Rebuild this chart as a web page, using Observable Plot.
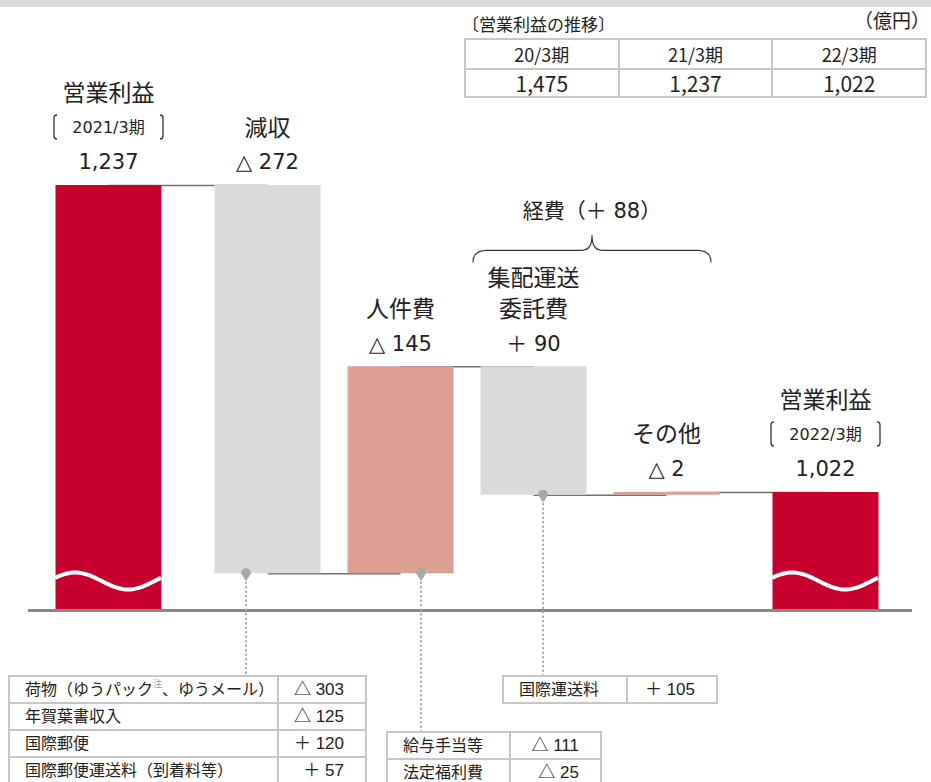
<!DOCTYPE html>
<html lang="ja">
<head>
<meta charset="utf-8">
<script src="https://cdn.jsdelivr.net/npm/d3@7"></script>
<script src="https://cdn.jsdelivr.net/npm/@observablehq/plot@0.6"></script>
<style>
  html, body { margin: 0; padding: 0; background: #fff; overflow: hidden; }
  #wrap { position: relative; width: 931px; height: 782px; overflow: hidden; color: #222;
          font-family: "Noto Sans CJK JP", sans-serif; }
  #band { position: absolute; left: 0; top: 0; width: 931px; height: 7px; background: #d9d9d9; }
  #plot { position: absolute; left: 0; top: 0; }
  .abs { position: absolute; white-space: nowrap; }
  table.grid { position: absolute; border-collapse: collapse; table-layout: fixed; }
  table.grid td { border: 2px solid #c6c6c6; padding: 0; white-space: nowrap; overflow: visible; }
  table.detail td { font-family: "Liberation Sans", "Noto Sans CJK JP", sans-serif; font-size: 16px; height: 25px; line-height: 25px; }
  table.detail td.lab { padding-left: 15px; }
  table.detail td.val { text-align: right; padding-right: 21px; font-size: 17px; }
  table.detail sup { font-size: 9px; color: #9a9a9a; vertical-align: top; line-height: 14px; }
  table.summary td { text-align: center; font-family: "Noto Sans CJK JP", sans-serif; }
</style>
</head>
<body>
<div id="wrap">
  <div id="band"></div>
  <div id="plot"></div>
</div>
<script>
// ---------------- data ----------------
const steps        = ["営業利益", "減収", "人件費", "集配運送\n委託費", "その他", "営業利益"];
const periods      = ["2021/3期", "", "", "", "", "2022/3期"];
const kinds        = ["total", "down", "up", "down", "up", "total"];
const amounts      = [1237, -272, 145, -90, 2, 1022];
const amountLabels = ["1,237", "△ 272", "△ 145", "＋ 90", "△ 2", "1,022"];
const axisFloor    = 940;   // value at the (broken) baseline

const expenseGroupLabel = "経費（＋ 88）";
const expenseGroupBars  = [3, 4];

const summaryTitle  = "〔営業利益の推移〕";
const unitLabel     = "（億円）";
const summaryYears  = ["20/3期", "21/3期", "22/3期"];
const summaryValues = ["1,475", "1,237", "1,022"];

const revenueItems  = ["荷物（ゆうパック{注}、ゆうメール）", "年賀葉書収入", "国際郵便", "国際郵便運送料（到着料等）"];
const revenueValues = ["△ 303", "△ 125", "＋ 120", "＋ 57"];
const personnelItems  = ["給与手当等", "法定福利費"];
const personnelValues = ["△ 111", "△ 25"];
const consignItems  = ["国際運送料"];
const consignValues = ["＋ 105"];

// ---------------- layout (not data) ----------------
const barColors = {total: "#c8002e", down: "#dadada", up: "#dd9e94"};
const detailTables = [
  {bar: 1, dx: -21, items: revenueItems,   values: revenueValues,   left: 8,   top: 675, widths: [269, 88]},
  {bar: 2, dx: 21,  items: personnelItems, values: personnelValues, left: 386, top: 731, widths: [123, 91]},
  {bar: 3, dx: 10,  items: consignItems,   values: consignValues,   left: 502, top: 675, widths: [124, 90]}
];

// ---------------- build waterfall rows ----------------
const rows = [];
let level = 0;
amounts.forEach((v, i) => {
  const kind = kinds[i];
  let start, end;
  if (kind === "total") { start = axisFloor; end = v; }
  else { start = level; end = level + v; }
  level = end;
  rows.push({i, name: steps[i], period: periods[i], label: amountLabels[i], kind,
             start, end, top: Math.max(start, end), bottom: Math.min(start, end)});
});
const totals = rows.filter(d => d.kind === "total");
const others = rows.filter(d => d.kind !== "total");

const NS = "http://www.w3.org/2000/svg";
function el(tag, attrs) {
  const e = document.createElementNS(NS, tag);
  for (const k in attrs) e.setAttribute(k, attrs[k]);
  return e;
}

// white wave across the broken total bars
function waveMark(index, scales) {
  const g = el("g", {});
  for (const r of totals) {
    const cx = scales.x(r.i), half = 53, cy = scales.y(axisFloor) - 28, amp = 8.5;
    let d = "";
    for (let k = 0; k <= 48; k++) {
      const t = k / 48;
      const x = cx - half + t * 2 * half;
      const y = cy - amp * Math.sin(2 * Math.PI * (t + 0.06));
      d += (k ? "L" : "M") + x.toFixed(1) + "," + y.toFixed(1);
    }
    g.appendChild(el("path", {d, fill: "none", stroke: "#fff", "stroke-width": 4}));
  }
  return g;
}

// markers + dotted leaders to the detail tables
function leaderMark(index, scales) {
  const g = el("g", {});
  for (const t of detailTables) {
    const r = rows[t.bar];
    const x = scales.x(r.i) + t.dx, y = scales.y(r.bottom);
    g.appendChild(el("line", {x1: x, x2: x, y1: y + 4, y2: t.top, stroke: "#a8a8a8", "stroke-width": 2, "stroke-dasharray": "2,2.5"}));
    g.appendChild(el("path", {d: `M${x - 5},${y} A5,5 0 1,1 ${x + 5},${y} L${x},${y + 8} Z`, fill: "#a8a8a8"}));
  }
  return g;
}

// thin brackets around the period labels
function bracketMark(index, scales) {
  const g = el("g", {});
  for (const r of totals) {
    const cx = scales.x(r.i), cy = scales.y(r.top) - 58;
    const xl = cx - 54, xr = cx + 55, h = 12;
    g.appendChild(el("path", {d: `M${xl + 3},${cy - h} Q${xl},${cy - h} ${xl},${cy - h + 3} L${xl},${cy + h - 3} Q${xl},${cy + h} ${xl + 3},${cy + h}`,
      fill: "none", stroke: "#333", "stroke-width": 1.3}));
    g.appendChild(el("path", {d: `M${xr - 3},${cy - h} Q${xr},${cy - h} ${xr},${cy - h + 3} L${xr},${cy + h - 3} Q${xr},${cy + h} ${xr - 3},${cy + h}`,
      fill: "none", stroke: "#333", "stroke-width": 1.3}));
  }
  return g;
}

// curly brace grouping the expense bars
function braceMark(index, scales) {
  const g = el("g", {});
  const a = rows[expenseGroupBars[0]], b = rows[expenseGroupBars[1]];
  const x0 = scales.x(a.i) - 60, x1 = scales.x(b.i) + 45, xm = (x0 + x1) / 2;
  const ytip = scales.y(Math.max(a.top, b.top)) - 104, yh = ytip - 12, yc = ytip - 27;
  g.appendChild(el("path", {
    d: `M${x0},${ytip} Q${x0},${yh} ${x0 + 14},${yh} L${xm - 10},${yh} Q${xm},${yh} ${xm},${yc} Q${xm},${yh} ${xm + 10},${yh} L${x1 - 14},${yh} Q${x1},${yh} ${x1},${ytip}`,
    fill: "none", stroke: "#333", "stroke-width": 1.2}));
  const t = el("text", {x: xm, y: yc - 25, "text-anchor": "middle", dy: "0.35em", "font-size": 21, fill: "#222"});
  t.textContent = expenseGroupLabel;
  g.appendChild(t);
  return g;
}

const chart = Plot.plot({
  width: 931, height: 782,
  marginTop: 185, marginBottom: 173, marginLeft: 28, marginRight: 19,
  x: {type: "linear", domain: [0, 1, 4, 5], range: [108, 267, 666, 825], axis: null},
  y: {domain: [axisFloor, 1237], axis: null},
  color: {domain: Object.keys(barColors), range: Object.values(barColors)},
  style: {fontFamily: "'DejaVu Sans', 'Noto Sans CJK JP', sans-serif", color: "#222", background: "transparent", overflow: "visible"},
  marks: [
    Plot.link(rows.slice(0, -1), {x1: "i", x2: d => d.i + 1, y1: "end", y2: "end", stroke: "#707070", strokeWidth: 1.5}),
    Plot.ruleX(rows, {x: "i", y1: "bottom", y2: "top", stroke: "kind", strokeWidth: 106}),
    waveMark,
    Plot.ruleY([axisFloor], {stroke: "#888", strokeWidth: 3, dy: 1}),
    leaderMark,
    Plot.text(rows, {x: "i", y: "top", text: "label", dy: -23, fontSize: 21, fill: "#222"}),
    Plot.text(totals, {x: "i", y: "top", text: "period", dy: -58, fontSize: 16, fill: "#222"}),
    bracketMark,
    Plot.text(totals, {x: "i", y: "top", text: "name", dy: -92, fontSize: 23, fill: "#222", fontFamily: "'Noto Sans CJK JP', sans-serif"}),
    Plot.text(others, {x: "i", y: "top", text: "name", dy: -50, fontSize: 23, lineAnchor: "bottom", lineHeight: 1.35, fill: "#222", fontFamily: "'Noto Sans CJK JP', sans-serif"}),
    braceMark
  ]
});
document.getElementById("plot").appendChild(chart);

// ---------------- HTML overlays: summary + detail tables ----------------
const wrap = document.getElementById("wrap");
function addDiv(text, style) {
  const d = document.createElement("div");
  d.className = "abs";
  d.textContent = text;
  Object.assign(d.style, style);
  wrap.appendChild(d);
}
addDiv(summaryTitle, {left: "462px", top: "12px", fontSize: "17px", lineHeight: "24px"});
addDiv(unitLabel, {right: "1px", top: "7px", fontSize: "19px", lineHeight: "26px"});

const sum = document.createElement("table");
sum.className = "grid summary";
Object.assign(sum.style, {left: "464px", top: "38px", width: "463px"});
const tr1 = sum.insertRow(), tr2 = sum.insertRow();
summaryYears.forEach((y, k) => {
  const c = tr1.insertCell(); c.textContent = y;
  Object.assign(c.style, {fontSize: "18px", height: "28px", lineHeight: "24px"});
});
summaryValues.forEach((v, k) => {
  const c = tr2.insertCell(); c.textContent = v;
  Object.assign(c.style, {fontSize: "21px", height: "26px", lineHeight: "24px"});
});
wrap.appendChild(sum);

for (const t of detailTables) {
  const tb = document.createElement("table");
  tb.className = "grid detail";
  Object.assign(tb.style, {left: t.left + "px", top: t.top + "px", width: (t.widths[0] + t.widths[1]) + "px"});
  const cg = document.createElement("colgroup");
  t.widths.forEach(w => { const c = document.createElement("col"); c.style.width = w + "px"; cg.appendChild(c); });
  tb.appendChild(cg);
  t.items.forEach((item, k) => {
    const tr = tb.insertRow();
    const a = tr.insertCell(); a.className = "lab";
    const parts = item.split("{注}");
    a.appendChild(document.createTextNode(parts[0]));
    if (parts.length > 1) {
      const s = document.createElement("sup"); s.textContent = "注"; a.appendChild(s);
      a.appendChild(document.createTextNode(parts[1]));
    }
    const b = tr.insertCell(); b.className = "val"; b.textContent = t.values[k];
  });
  wrap.appendChild(tb);
}
</script>
</body>
</html>
